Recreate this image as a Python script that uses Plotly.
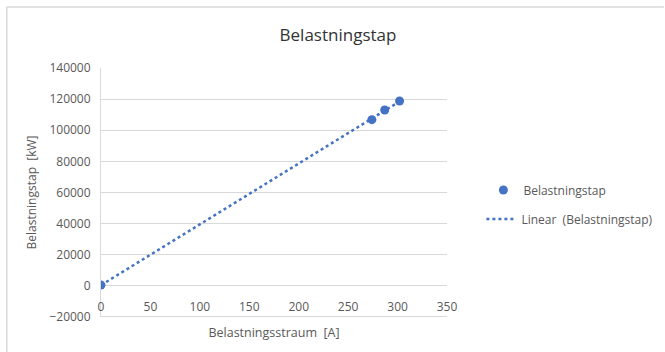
import numpy as np
import plotly.graph_objects as go

# Measured load current [A] and load loss [kW]
straum = [0, 274, 287, 302]
tap = [500, 106800, 113000, 118800]

y_ticks = [-20000, 0, 20000, 40000, 60000, 80000, 100000, 120000, 140000]
x_ticks = [0, 50, 100, 150, 200, 250, 300, 350]

BLUE = "#4472C4"
TXT = "#595959"
GRID = "#d9d9d9"
FONT = "Open Sans"

# Least-squares linear trendline over the measured range
k, m = np.polyfit(straum, tap, 1)
trend_x = [min(straum), max(straum)]
trend_y = [k * v + m for v in trend_x]

fig = go.Figure()
fig.add_trace(go.Scatter(
    x=trend_x, y=trend_y, mode="lines",
    line=dict(color=BLUE, width=2.5, dash="dot"),
    name="Linear  (Belastningstap)", legend="legend2",
))
fig.add_trace(go.Scatter(
    x=straum, y=tap, mode="markers",
    marker=dict(color=BLUE, size=9),
    name="Belastningstap", legend="legend",
))

L, R, T, B = 100.5, 447.5, 68, 317
W, H = 665, 352
pw, ph = R - L, B - T

def px(x):
    return (x - L) / pw

def py(y):
    return (B - y) / ph

fig.update_layout(
    width=W, height=H,
    margin=dict(l=L, r=W - R, t=T, b=H - B, autoexpand=False),
    paper_bgcolor="white", plot_bgcolor="white",
    font=dict(family=FONT, color=TXT, size=12),
    title=dict(text="Belastningstap", x=338 / W, xanchor="center",
               y=1 - 35 / H, yanchor="middle",
               font=dict(size=17, color="#333333", family=FONT)),
    xaxis=dict(
        range=[0, 350], tickvals=x_ticks, showgrid=False, zeroline=False,
        showline=False, ticks="", anchor="free",
        position=20000 / 160000, ticklabelstandoff=12,
        tickfont=dict(size=12, color=TXT),
        title=dict(text="Belastningsstraum  [A]", standoff=14,
                   font=dict(size=12.5, color=TXT)),
    ),
    yaxis=dict(
        range=[-20000, 140000], tickvals=y_ticks, showgrid=True,
        gridcolor=GRID, gridwidth=1, zeroline=False,
        showline=True, linecolor=GRID, linewidth=1, ticks="",
        tickformat="d", ticklabelstandoff=7,
        tickfont=dict(size=12, color=TXT),
        title=dict(text="Belastningstap  [kW]", standoff=10,
                   font=dict(size=12, color=TXT)),
    ),
    legend=dict(x=px(484), y=py(190), xanchor="left", yanchor="middle",
                bgcolor="rgba(0,0,0,0)", font=dict(size=12, color=TXT),
                itemwidth=30),
    legend2=dict(x=px(482), y=py(219), xanchor="left", yanchor="middle",
                 bgcolor="rgba(0,0,0,0)", font=dict(size=12, color=TXT),
                 itemwidth=30),
    showlegend=True,
)

# Bottom gridline along the lower edge of the plot area
fig.add_shape(type="line", xref="paper", yref="paper",
              x0=0, x1=1, y0=0.002, y1=0.002,
              line=dict(color=GRID, width=1), layer="above")

# Chart frame (left and top edges)
fig.add_shape(type="line", xref="paper", yref="paper",
              x0=px(6), x1=px(6), y0=py(7), y1=py(352),
              line=dict(color="#d9d9d9", width=1.5))
fig.add_shape(type="line", xref="paper", yref="paper",
              x0=px(6), x1=px(665), y0=py(7), y1=py(7),
              line=dict(color="#d9d9d9", width=1.5))

fig.write_html("out.html")
